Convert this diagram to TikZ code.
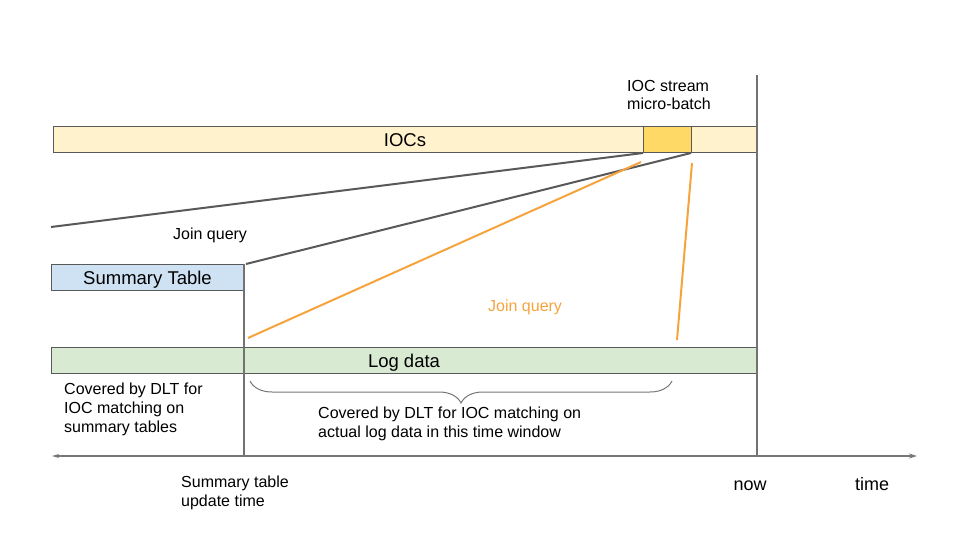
\documentclass[tikz,border=0pt]{standalone}
\usepackage{fontspec}
\setmainfont{Liberation Sans}
\usetikzlibrary{arrows.meta,decorations.pathreplacing}
\definecolor{border}{HTML}{595959}
\definecolor{iocfill}{HTML}{FFF2CC}
\definecolor{mbfill}{HTML}{FFD966}
\definecolor{sumfill}{HTML}{CFE2F3}
\definecolor{logfill}{HTML}{D9EAD3}
\definecolor{joinorange}{HTML}{F6A33C}
\definecolor{axisgray}{HTML}{777777}
\tikzset{
  bar/.style={draw=border, line width=1pt, inner sep=0pt, outer sep=0pt, anchor=north west},
  barlabel/.style={font=\fontsize{18.5}{21}\selectfont, inner sep=0pt, anchor=base},
  lbl/.style={font=\fontsize{16}{19}\selectfont, inner sep=0pt, align=left},
  biglbl/.style={font=\fontsize{18}{21}\selectfont, inner sep=0pt},
  joinline/.style={draw=border, line width=2pt},
  orangeline/.style={draw=joinorange, line width=2pt},
  vline/.style={draw=border!85, line width=1.2pt},
  axisline/.style={draw=axisgray, line width=1.3pt, {Stealth[length=7pt,width=4pt]}-{Stealth[length=8pt,width=5pt]}},
  bracestyle/.style={draw=axisgray, line width=1pt, decorate, decoration={brace, amplitude=22pt, mirror}}
}
\begin{document}
\begin{tikzpicture}[x=1pt,y=-1pt]
\useasboundingbox (0,0) rectangle (960,540);
% bars
\node[bar, fill=iocfill, minimum width=704pt, minimum height=26pt] (iocs) at (53,127) {};
\node[barlabel] (iocslbl) at ([yshift=-7pt]iocs.center) {IOCs};
\node[bar, fill=mbfill, minimum width=48pt, minimum height=26pt] (mb) at (643,127) {};
\node[bar, fill=sumfill, minimum width=193pt, minimum height=26pt] (sum) at (51,264) {};
\node[barlabel] (sumlbl) at ([yshift=-7.5pt]sum.center) {Summary Table};
\node[bar, fill=logfill, minimum width=706pt, minimum height=26pt] (log) at (51,347) {};
\node[barlabel] (loglbl) at ([yshift=-7pt]log.center) {Log data};
% coordinates
\coordinate (nowtop) at (757,75);
\coordinate (nowbot) at (757,456);
\coordinate (sumbot) at (244,456);
\coordinate (axl) at (52,456);
\coordinate (axr) at (917,456);
\coordinate (jl) at (51,227);
\coordinate (oa1) at (248,338);
\coordinate (oa2) at (641,162);
\coordinate (ob1) at (677,340);
\coordinate (ob2) at (692,163);
\coordinate (br1) at (250,381);
\coordinate (br2) at (672,381);
% vertical lines
\draw[vline] (nowtop) -- (nowbot);
\draw[vline] (sum.north east) -- (sumbot);
% axis
\draw[axisline] (axl) -- (axr);
% join lines
\draw[joinline] (jl) -- (mb.south west);
\draw[joinline] ([xshift=2pt]sum.north east) -- (mb.south east);
\draw[orangeline] (oa1) -- (oa2);
\draw[orangeline] (ob1) -- (ob2);
% brace
\draw[bracestyle] (br1) -- (br2);
% labels
\node[lbl, anchor=north west] (mblbl) at (627,80) {IOC stream\\[-1pt]micro-batch};
\node[lbl, anchor=base west] (jq1) at (173,239) {Join query};
\node[lbl, anchor=base west, text=joinorange] (jq2) at (488,311) {Join query};
\node[lbl, anchor=north west] (cov1) at (64,383) {Covered by DLT for\\IOC matching on\\summary tables};
\node[lbl, anchor=north west] (cov2) at (318,407) {Covered by DLT for IOC matching on\\actual log data in this time window};
\node[lbl, anchor=north west] (upd) at (181,476) {Summary table\\update time};
\node[biglbl, anchor=base] (now) at (750,490) {now};
\node[biglbl, anchor=base] (time) at (872,490) {time};
\end{tikzpicture}
\end{document}
